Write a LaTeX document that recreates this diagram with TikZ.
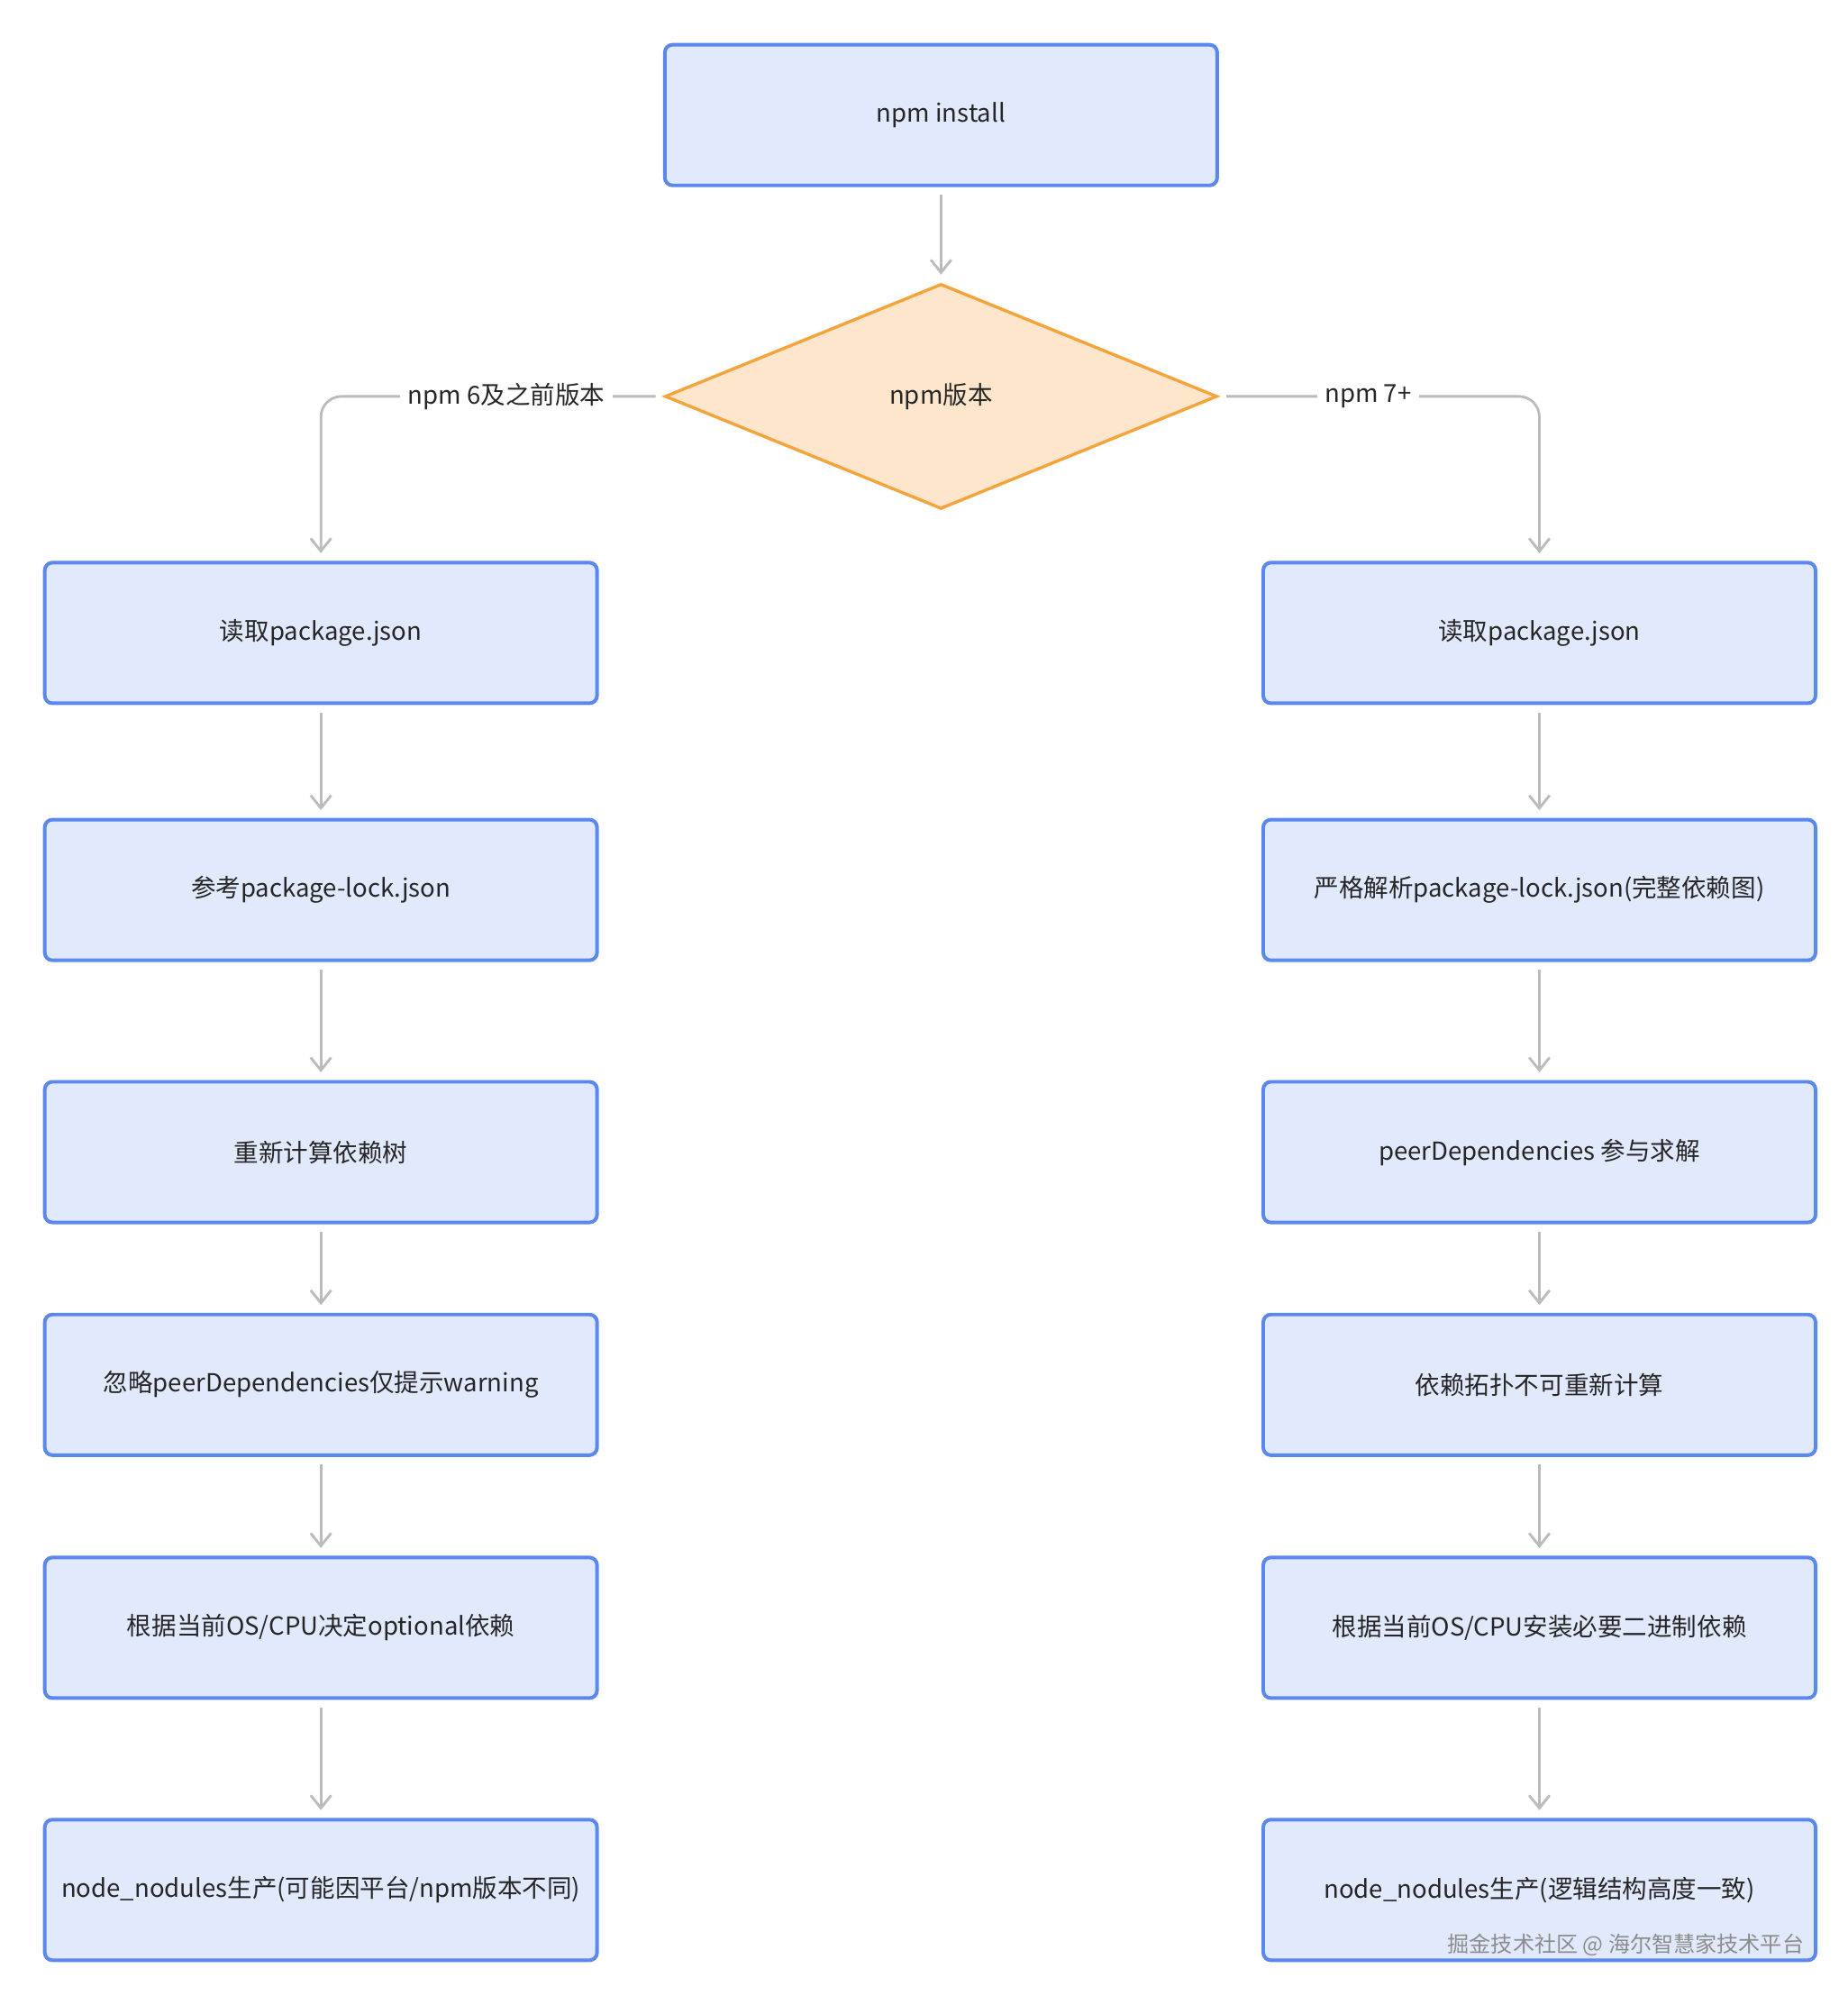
\documentclass[tikz,border=0pt]{standalone}
\usepackage{fontspec}
\setmainfont{Noto Sans CJK SC}
\usetikzlibrary{shapes.geometric,arrows.meta}
\definecolor{boxfill}{HTML}{E1E9FC}
\definecolor{boxline}{HTML}{5A88EE}
\definecolor{dfill}{HTML}{FDE6CB}
\definecolor{dline}{HTML}{F4A43C}
\definecolor{conn}{HTML}{BBBBBB}
\begin{document}
\begin{tikzpicture}[x=0.5pt,y=-0.5pt,
  txt/.style={font=\fontsize{9.7}{12}\selectfont,text=black!85},
  box/.style={draw=boxline,fill=boxfill,line width=1.4pt,rounded corners=3pt,minimum width=216pt,minimum height=55pt,inner sep=0pt,txt},
  dia/.style={diamond,draw=dline,fill=dfill,line width=1.2pt,minimum width=216pt,minimum height=88pt,inner sep=0pt,txt},
  arr/.style={draw=conn,line width=1pt,-{Straight Barb[length=5pt,width=8pt]},shorten <=3pt,shorten >=3pt},
  lbl/.style={fill=white,txt,inner sep=3pt}]
\useasboundingbox (0,0) rectangle (1445,1568);
\newcommand{\tl}[1]{\raisebox{-1.5pt}{#1}}
\node[box] (top) at (736,90) {\tl{npm install}};
\node[dia] (d) at (736,310) {\tl{npm版本}};
\node[box] (l1) at (251,495) {\tl{读取package.json}};
\node[box] (l2) at (251,696) {\tl{参考package-lock.json}};
\node[box] (l3) at (251,901) {\tl{重新计算依赖树}};
\node[box] (l4) at (251,1083) {\tl{忽略peerDependencies仅提示warning}};
\node[box] (l5) at (251,1273) {\tl{根据当前OS/CPU决定optional依赖}};
\node[box] (l6) at (251,1478) {\tl{node\_nodules生产(可能因平台/npm版本不同)}};
\node[box] (r1) at (1204,495) {\tl{读取package.json}};
\node[box] (r2) at (1204,696) {\tl{严格解析package-lock.json(完整依赖图)}};
\node[box] (r3) at (1204,901) {\tl{peerDependencies 参与求解}};
\node[box] (r4) at (1204,1083) {\tl{依赖拓扑不可重新计算}};
\node[box] (r5) at (1204,1273) {\tl{根据当前OS/CPU安装必要二进制依赖}};
\node[box] (r6) at (1204,1478) {\tl{node\_nodules生产(逻辑结构高度一致)}};
\draw[arr] (top) -- (d);
\draw[arr,rounded corners=8pt] (d.west) -- (l1.north |- d.west) -- (l1.north);
\draw[arr,rounded corners=8pt] (d.east) -- (r1.north |- d.east) -- (r1.north);
\node[lbl] (la) at (396,310) {\tl{npm 6及之前版本}};
\node[lbl] (lb) at (1070,310) {\tl{npm 7+}};
\foreach \a/\b in {l1/l2,l2/l3,l3/l4,l4/l5,l5/l6,r1/r2,r2/r3,r3/r4,r4/r5,r5/r6}
  \draw[arr] (\a) -- (\b);
\node[font=\fontsize{8.5}{10}\selectfont,text=black!45,anchor=east] (wm) at (1418,1521) {掘金技术社区 @ 海尔智慧家技术平台};
\end{tikzpicture}
\end{document}
